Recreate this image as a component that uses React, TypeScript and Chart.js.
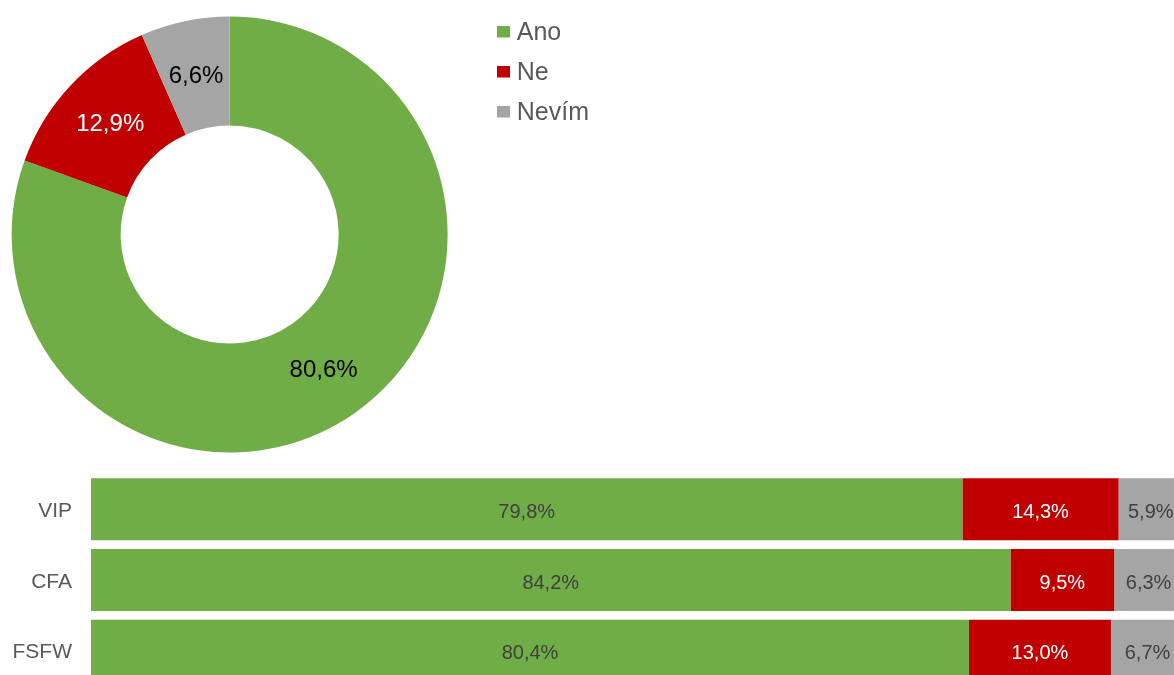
import React, { useEffect, useRef } from 'react';
import { Chart, registerables } from 'chart.js';

Chart.register(...registerables);

// ---- data ----
const answerLabels = ['Ano', 'Ne', 'Nevím'];
const overallValues = [80.6, 12.9, 6.6];
const groupCategories = ['VIP', 'CFA', 'FSFW'];
const anoValues = [79.8, 84.2, 80.4];
const neValues = [14.3, 9.5, 13.0];
const nevimValues = [5.9, 6.3, 6.7];

// ---- styles ----
const COLORS = ['#70AD47', '#C00000', '#A5A5A5'];
const FONT = "'Liberation Sans', Arial, Helvetica, sans-serif";
const DONUT_LABEL_COLORS = ['#000000', '#FFFFFF', '#000000'];
const BAR_LABEL_COLORS = ['#404040', '#FFFFFF', '#404040'];

const fmt = (v: number) => v.toFixed(1).replace('.', ',') + '%';

function makeSwatch(color: string) {
  const c = document.createElement('canvas');
  c.width = 13;
  c.height = 16;
  const g = c.getContext('2d') as CanvasRenderingContext2D;
  g.fillStyle = color;
  g.fillRect(0, 0, 13, 12);
  return c;
}

const doughnutLabelPlugin = {
  id: 'doughnutLabels',
  afterDatasetsDraw(chart: any) {
    const ctx = chart.ctx;
    const meta = chart.getDatasetMeta(0);
    const data = chart.data.datasets[0].data as number[];
    ctx.save();
    ctx.font = `24px ${FONT}`;
    ctx.textAlign = 'center';
    ctx.textBaseline = 'middle';
    meta.data.forEach((arc: any, i: number) => {
      const p = arc.tooltipPosition(false);
      ctx.fillStyle = DONUT_LABEL_COLORS[i];
      ctx.fillText(fmt(data[i]), p.x, p.y + 2);
    });
    ctx.restore();
  },
};

const barLabelPlugin = {
  id: 'barLabels',
  afterDatasetsDraw(chart: any) {
    const ctx = chart.ctx;
    ctx.save();
    ctx.font = `20px ${FONT}`;
    ctx.textAlign = 'center';
    ctx.textBaseline = 'middle';
    chart.data.datasets.forEach((ds: any, di: number) => {
      const meta = chart.getDatasetMeta(di);
      meta.data.forEach((el: any, i: number) => {
        const x = (el.x + el.base) / 2;
        ctx.fillStyle = BAR_LABEL_COLORS[di];
        ctx.fillText(fmt(ds.data[i]), x, el.y + 3);
      });
    });
    ctx.restore();
  },
};

export default function App() {
  const donutRef = useRef<HTMLCanvasElement>(null);
  const barRef = useRef<HTMLCanvasElement>(null);

  useEffect(() => {
    const swatches = COLORS.map(makeSwatch);
    const baseGenerate = (Chart as any).overrides.doughnut.plugins.legend.labels.generateLabels;

    const donut = new Chart(donutRef.current as HTMLCanvasElement, {
      type: 'doughnut',
      data: {
        labels: answerLabels,
        datasets: [
          {
            data: overallValues,
            backgroundColor: COLORS,
            borderWidth: 0,
          },
        ],
      },
      options: {
        animation: false,
        responsive: false,
        maintainAspectRatio: false,
        radius: 218,
        cutout: '50%',
        layout: { padding: 0 },
        plugins: {
          legend: {
            position: 'right',
            align: 'start',
            labels: {
              usePointStyle: true,
              pointStyleWidth: 2,
              boxHeight: 12,
              padding: 15,
              color: '#595959',
              font: { size: 25, family: FONT },
              generateLabels: (chart: any) => {
                const items = baseGenerate(chart);
                items.forEach((it: any, i: number) => {
                  it.pointStyle = swatches[i];
                });
                return items;
              },
            },
          },
          tooltip: { enabled: false },
        },
      } as any,
      plugins: [doughnutLabelPlugin],
    });

    const bar = new Chart(barRef.current as HTMLCanvasElement, {
      type: 'bar',
      data: {
        labels: groupCategories,
        datasets: [
          { label: answerLabels[0], data: anoValues, backgroundColor: COLORS[0] },
          { label: answerLabels[1], data: neValues, backgroundColor: COLORS[1] },
          { label: answerLabels[2], data: nevimValues, backgroundColor: COLORS[2] },
        ],
      },
      options: {
        indexAxis: 'y',
        animation: false,
        responsive: false,
        maintainAspectRatio: false,
        layout: { padding: 0 },
        datasets: {
          bar: { borderWidth: 0, categoryPercentage: 1, barPercentage: 0.877 },
        },
        scales: {
          x: { stacked: true, display: false, min: 0, max: 100 },
          y: {
            stacked: true,
            grid: { display: false, drawTicks: false },
            border: { display: false },
            ticks: {
              padding: 19,
              labelOffset: 2,
              color: '#595959',
              font: { size: 21, family: FONT },
            },
            afterFit: (s: any) => {
              s.width = 91;
              s.paddingTop = 0;
              s.paddingBottom = 0;
            },
          },
        },
        plugins: {
          legend: { display: false },
          tooltip: { enabled: false },
        },
      } as any,
      plugins: [barLabelPlugin],
    });

    return () => {
      donut.destroy();
      bar.destroy();
    };
  }, []);

  return (
    <div
      style={{
        position: 'fixed',
        left: 0,
        top: 0,
        width: 1174,
        height: 675,
        overflow: 'hidden',
        background: '#ffffff',
      }}
    >
      <canvas
        ref={donutRef}
        width={627}
        height={457}
        style={{ position: 'absolute', left: -28, top: 6, width: 627, height: 457 }}
      />
      <canvas
        ref={barRef}
        width={1183}
        height={212}
        style={{ position: 'absolute', left: 0, top: 474, width: 1183, height: 212 }}
      />
    </div>
  );
}
